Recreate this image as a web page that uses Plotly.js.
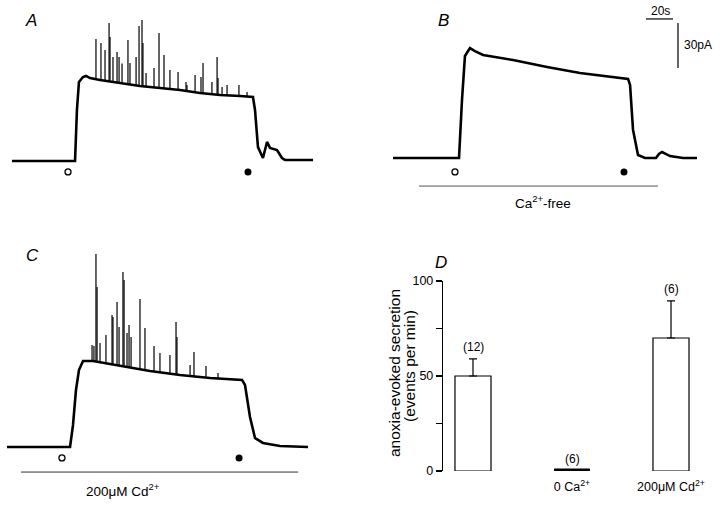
<!DOCTYPE html>
<html><head><meta charset="utf-8">
<script src="https://cdn.plot.ly/plotly-3.0.1.min.js"></script>
<style>html,body{margin:0;padding:0;background:#fff}#chart{width:720px;height:507px}</style>
</head><body><div id="chart"></div><script>
// ---- Panel A: current trace (time s, current pA) ----
const timeA = [0, 45.9, 46.7, 48.1, 49.6, 52.6, 54.8, 57.8, 65.2, 80, 94.8, 109.6, 124.4, 139.3, 154.1, 168.9, 178.5, 180, 182.2, 185.9, 188.9, 191.1, 196.3, 200, 202.2, 223];
const currA = [0, 0, 0, 34, 52.7, 56, 56.7, 55.3, 54, 52, 50, 48.7, 47.3, 45.3, 44, 43.3, 42.7, 34, 9.3, 2, 12.7, 8.7, 7.3, 2, 0.7, 0.7];
const spikeTimeA = [62.2, 65.9, 68.9, 71.9, 72.6, 74.8, 77.8, 79.3, 81.5, 85.9, 87.4, 91.9, 94.1, 96.3, 97, 99.3, 105.2, 108.9, 112.6, 117, 123, 128.9, 129.6, 135.6, 140, 141.5, 148.1, 151.9, 152.6, 155.6, 159.3, 168.1, 174.1];
const spikePeakA = [81.3, 78.7, 74, 92, 82.7, 69.3, 72.7, 69.3, 65, 80.7, 65.3, 69.3, 90, 94, 78.7, 58.7, 62, 85.3, 70.7, 60.7, 59.3, 52.7, 50.7, 57.3, 56, 65.3, 52.7, 69.3, 55.3, 49.3, 50.7, 50.7, 46];
const spikeBaseA = [54, 53.7, 53.3, 53, 53, 52.7, 52.3, 52, 51.7, 51, 50.7, 50.3, 50, 49.7, 49.7, 49.3, 49, 48.7, 48.3, 48, 47.3, 47, 47, 46.3, 45.7, 45.7, 44.7, 44.3, 44.3, 44, 43.7, 43.3, 43];
const eventsA = [41.5, 174.8];

// ---- Panel B: Ca2+-free ----
const timeB = [0, 48.9, 51.1, 53.3, 57, 60.7, 66.7, 88.9, 114.1, 138.5, 174.1, 175.6, 177.8, 181.5, 186.7, 194.8, 197, 199.3, 205.2, 214.8, 225.2];
const currB = [0, 0, 38.7, 68, 73.3, 71.3, 68.7, 65.3, 60.7, 56.7, 52.7, 48.7, 18.7, 2, 0, 0, 2.7, 4, 1.3, 0, 0];
const eventsB = [45.9, 171.1];
const solutionB = [19.3, 196.3];
const solutionLabelB = 'Ca<sup>2+</sup>-free';

// ---- Panel C: 200 uM Cd2+ ----
const timeC = [0, 46.7, 48.9, 51.1, 53.3, 56.3, 63.7, 83.7, 105.9, 128.1, 150.4, 174.1, 176.3, 180, 183.7, 189.6, 202.2, 223];
const currC = [0, 0, 14.7, 38, 51.3, 57.3, 57.3, 54, 50.7, 48, 46, 44.7, 41.3, 20, 6, 2.7, 0.7, 0];
const spikeTimeC = [63, 64.4, 65.9, 66.7, 68.9, 73.3, 77.8, 78.5, 81.5, 83, 85.9, 86.7, 88.9, 90.4, 91.9, 98.5, 102.2, 108.9, 113.3, 120.7, 125.2, 125.9, 135.6, 138.5, 147.4, 156.3];
const spikePeakC = [68, 67.3, 128.7, 106.7, 69.3, 74.7, 88, 86.7, 96.7, 80, 116.7, 111.3, 76, 81.3, 73.3, 98.7, 79.3, 67.3, 62.7, 61.3, 83.3, 73.3, 54.7, 63.3, 54, 49.3];
const spikeBaseC = [57.3, 57.3, 57, 57, 56.7, 56, 55.3, 55.3, 54.7, 54.3, 54, 54, 53.3, 53.3, 53, 52, 51.3, 50.7, 50, 48.7, 48.3, 48, 47.3, 47.3, 46, 45.7];
const eventsC = [40.7, 171.9];
const solutionC = [10.4, 215.6];
const solutionLabelC = '200μM Cd<sup>2+</sup>';

// ---- Scale bar ----
const scaleTime = 20;   // s
const scaleCurr = 30;   // pA
const scaleTimeLabel = '20s';
const scaleCurrLabel = '30pA';

// ---- Panel D: bar chart ----
const categoriesD = [0, 1, 2];
const meansD = [50, 0, 70];
const semD = [9, 0, 19.5];
const nLabelsD = ['(12)', '(6)', '(6)'];
const catLabelsD = ['', '0 Ca<sup>2+</sup>', '200μM Cd<sup>2+</sup>'];
const yTickValsD = [0, 25, 50, 75, 100];
const yTickTextD = ['0', '', '50', '', '100'];
const yTitleLinesD = ['anoxia-evoked secretion', '(events per min)'];

// ---------- helpers ----------
const W = 720, H = 507;
const px = x => x / W;
const py = y => 1 - y / H;
const FONT = '"Liberation Sans", Arial, sans-serif';
function spikeXY(ts, bases, peaks) {
  const x = [], y = [];
  ts.forEach((t, i) => { x.push(t, t, null); y.push(bases[i], peaks[i], null); });
  return {x, y};
}
const traces = [];
function addRecording(t, c, sT, sB, sP, ev, xa, ya, evY) {
  if (sT) {
    const s = spikeXY(sT, sB, sP);
    traces.push({type: 'scatter', mode: 'lines', x: s.x, y: s.y, xaxis: xa, yaxis: ya,
      line: {color: '#000', width: 1.2}, connectgaps: false, hoverinfo: 'skip'});
  }
  traces.push({type: 'scatter', mode: 'lines', x: t, y: c, xaxis: xa, yaxis: ya,
    line: {color: '#000', width: 2.6}, hoverinfo: 'skip'});
  traces.push({type: 'scatter', mode: 'markers', x: [ev[0]], y: [evY], xaxis: xa, yaxis: ya,
    marker: {symbol: 'circle-open', size: 6, color: '#000', line: {width: 1.3, color: '#000'}}});
  traces.push({type: 'scatter', mode: 'markers', x: [ev[1]], y: [evY], xaxis: xa, yaxis: ya,
    marker: {symbol: 'circle', size: 7, color: '#000'}});
}
addRecording(timeA, currA, spikeTimeA, spikeBaseA, spikePeakA, eventsA, 'x', 'y', -7.3);
addRecording(timeB, currB, null, null, null, eventsB, 'x2', 'y2', -9.3);
addRecording(timeC, currC, spikeTimeC, spikeBaseC, spikePeakC, eventsC, 'x3', 'y3', -7.3);

// solution bars
traces.push({type: 'scatter', mode: 'lines', x: solutionB, y: [-18.7, -18.7], xaxis: 'x2', yaxis: 'y2',
  line: {color: '#555', width: 1}});
traces.push({type: 'scatter', mode: 'lines', x: solutionC, y: [-16.7, -16.7], xaxis: 'x3', yaxis: 'y3',
  line: {color: '#333', width: 1}});

// scale bar (in panel B axes)
const sbT0 = 187.4, sbI0 = 92.7;
traces.push({type: 'scatter', mode: 'lines', x: [sbT0, sbT0 + scaleTime], y: [sbI0, sbI0], xaxis: 'x2', yaxis: 'y2',
  line: {color: '#000', width: 1.2}});
const sbT1 = 211.1, sbI1 = 60;
traces.push({type: 'scatter', mode: 'lines', x: [sbT1, sbT1], y: [sbI1, sbI1 + scaleCurr], xaxis: 'x2', yaxis: 'y2',
  line: {color: '#000', width: 1.2}});

// bar chart
traces.push({type: 'bar', x: categoriesD, y: meansD, width: 0.364, xaxis: 'x4', yaxis: 'y4',
  marker: {color: '#fff', line: {color: '#000', width: 1.2}},
  error_y: {type: 'data', array: semD, arrayminus: semD.map(() => 0), symmetric: false,
    color: '#000', thickness: 1.2, width: 4}, cliponaxis: false});
// zero-valued bars drawn as a flat line
const zx = [], zy = [];
categoriesD.forEach((c, i) => { if (meansD[i] === 0) { zx.push(c - 0.182, c + 0.182, null); zy.push(0, 0, null); } });
traces.push({type: 'scatter', mode: 'lines', x: zx, y: zy, xaxis: 'x4', yaxis: 'y4',
  line: {color: '#000', width: 5}, cliponaxis: false});

const hidden = {visible: false, fixedrange: true};
const annotations = [];
function ann(text, x, y, opts) {
  annotations.push(Object.assign({text, x: px(x), y: py(y), xref: 'paper', yref: 'paper',
    xanchor: 'center', yanchor: 'middle',
    showarrow: false, font: {family: FONT, size: 12, color: '#000'}}, opts || {}));
}
const letterFont = {family: FONT, size: 17, color: '#000'};
const labelFont = {family: FONT, size: 13.5, color: '#000'};
ann('<i>A</i>', 31, 21, {font: letterFont});
ann('<i>B</i>', 443, 21, {font: letterFont});
ann('<i>C</i>', 32, 255, {font: letterFont});
ann('<i>D</i>', 441, 262, {font: letterFont});
ann(solutionLabelB, 543, 202, {font: labelFont});
ann(solutionLabelC, 123, 490, {font: labelFont});
ann(scaleTimeLabel, 660, 11);
ann(scaleCurrLabel, 682, 45, {xanchor: 'left'});
// D y-axis title (two rotated lines)
const titleFont = {family: FONT, size: 15.5, color: '#000'};
ann(yTitleLinesD[0], 394, 373, {textangle: -90, font: titleFont});
ann(yTitleLinesD[1], 409, 366, {textangle: -90, font: titleFont});
nLabelsD.forEach((t, i) => {
  annotations.push({text: t, x: categoriesD[i], y: meansD[i] + semD[i], xref: 'x4', yref: 'y4',
    xanchor: 'center', yanchor: 'bottom', yshift: 3, showarrow: false,
    font: {family: FONT, size: 12, color: '#000'}});
});

const layout = {
  width: W, height: H, margin: {l: 0, r: 0, t: 0, b: 0},
  paper_bgcolor: '#fff', plot_bgcolor: 'rgba(0,0,0,0)', showlegend: false,
  font: {family: FONT, size: 12, color: '#000'},
  xaxis: Object.assign({domain: [0, 0.5], range: [-12 / 1.35, 348 / 1.35], anchor: 'y'}, hidden),
  yaxis: Object.assign({domain: [py(230), 1], range: [(161 - 230) / 1.5, 161 / 1.5], anchor: 'x'}, hidden),
  xaxis2: Object.assign({domain: [0.5, 1], range: [-33 / 1.35, 327 / 1.35], anchor: 'y2'}, hidden),
  yaxis2: Object.assign({domain: [py(230), 1], range: [(158 - 230) / 1.5, 158 / 1.5], anchor: 'x2'}, hidden),
  xaxis3: Object.assign({domain: [0, 0.5], range: [-7 / 1.35, 353 / 1.35], anchor: 'y3'}, hidden),
  yaxis3: Object.assign({domain: [0, py(230)], range: [(447 - 507) / 1.5, (447 - 230) / 1.5], anchor: 'x3'}, hidden),
  xaxis4: {domain: [px(443), 1], range: [-0.303, 2.495], anchor: 'y4', showline: false, showgrid: false, zeroline: false,
    tickvals: categoriesD, ticktext: catLabelsD, ticks: 'outside', ticklen: 4, tickcolor: 'rgba(0,0,0,0)',
    tickfont: {family: FONT, size: 12.5}, fixedrange: true},
  yaxis4: {domain: [py(471), py(281)], range: [0, 100], anchor: 'x4', showline: true, linecolor: '#000', linewidth: 1.2,
    showgrid: false, zeroline: false, ticks: 'outside', ticklen: 6, tickwidth: 1.2, tickcolor: '#000',
    tickvals: yTickValsD, ticktext: yTickTextD, tickfont: {family: FONT, size: 12.5},
    fixedrange: true},
  annotations: annotations
};
Plotly.newPlot('chart', traces, layout, {displayModeBar: false, staticPlot: true});
</script></body></html>
